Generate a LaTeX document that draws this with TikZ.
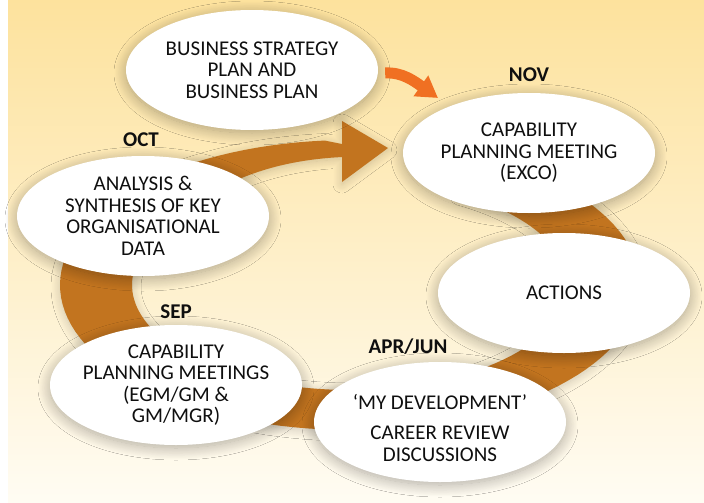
\documentclass[tikz,border=0pt]{standalone}
\usepackage{fontspec}
\setmainfont{Carlito}
\usetikzlibrary{shapes.geometric,shadows.blur,arrows.meta,calc}
\definecolor{bgtop}{RGB}{253,226,157}
\definecolor{bgbot}{RGB}{255,252,243}
\definecolor{ring}{RGB}{194,116,31}
\definecolor{accent}{RGB}{240,112,34}
\definecolor{ink}{RGB}{15,15,15}
\begin{document}
\begin{tikzpicture}[x=1pt,y=-1pt,
  bubble/.style={ellipse, fill=white, minimum width=252pt, minimum height=120pt,
    inner xsep=-14pt, inner ysep=0pt, align=center, text=ink,
    font=\fontsize{21}{21.5}\selectfont,
    blur shadow={shadow xshift=0pt, shadow yshift=-3pt, shadow blur radius=12pt,
      shadow opacity=32, shadow blur steps=18}},
  month/.style={font=\bfseries\fontsize{21}{22}\selectfont, text=ink, inner sep=0pt},
  feed/.style={accent, line width=11pt, -{Triangle[length=21pt,width=24pt]}},
  cycleband/.style={fill=ring, blur shadow={shadow xshift=0pt, shadow yshift=-2pt,
      shadow blur radius=9pt, shadow opacity=20, shadow blur steps=14}}
]
\useasboundingbox (0,0) rectangle (704,503);
% background
\fill[white] (0,0) rectangle (704,503);
\shade[top color=bgtop, bottom color=bgbot] (8,0) rectangle (704,503);

% the yearly cycle: an elliptical band ending in a tapered arrow
\fill[cycleband]
  plot[domain=-60:265, samples=120] ({350+290*cos(\x)},{285+145*sin(\x)})
  -- (342,144) -- (342,121) -- (388,148) -- (342,182) -- (342,157)
  .. controls (285,160) and (205,175) .. (143,253)
  -- plot[domain=198:-60, samples=120] ({350+218*cos(\x)},{285+105*sin(\x)})
  -- cycle;

% stages
\node[bubble] (biz) at (252,70) {BUSINESS STRATEGY\\PLAN AND\\BUSINESS PLAN};
\node[bubble] (exco) at (529,153) {CAPABILITY\\PLANNING MEETING\\(EXCO)};
\node[bubble] (data) at (143,216) {ANALYSIS \&\\SYNTHESIS OF KEY\\ORGANISATIONAL\\DATA};
\node[bubble] (act) at (564,293) {ACTIONS};
\node[bubble] (sep) at (176,385) {CAPABILITY\\PLANNING MEETINGS\\(EGM/GM \&\\GM/MGR)};
\node[bubble] (dev) at (440,422) {\rule{0pt}{27pt}‘MY DEVELOPMENT’\\[9pt]CAREER REVIEW\\DISCUSSIONS};

% months
\node[month] (nov) at (529,75) {NOV};
\node[month] (oct) at (141,140) {OCT};
\node[month] (sepm) at (176,312) {SEP};
\node[month] (apr) at (408,347) {APR/JUN};

% strategy feeds the EXCO meeting
\draw[feed] ($(biz.east)+(7,3)$) .. controls ($(biz.east)+(24,2)$) and ($(exco.center)+(-115,-72)$) .. ($(exco.center)+(-91,-55)$);
\end{tikzpicture}
\end{document}
